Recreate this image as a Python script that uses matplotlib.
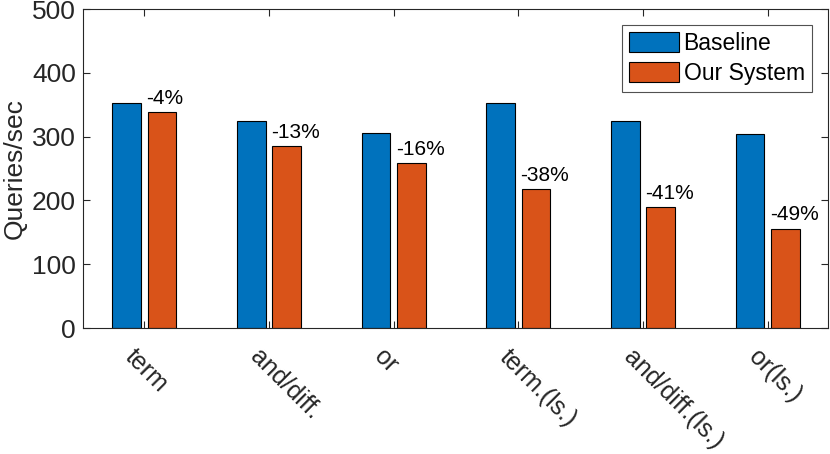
import matplotlib
matplotlib.use("Agg")
import matplotlib.pyplot as plt
import matplotlib.transforms as mtransforms
import numpy as np

plt.rcParams['font.family'] = ['Liberation Sans', 'DejaVu Sans']

categories = ['term', 'and/diff.', 'or', 'term.(ls.)', 'and/diff.(ls.)', 'or(ls.)']
baseline = [353, 325, 306, 353, 324, 304]
our_system = [338, 285, 258, 218, 190, 156]
changes = ['-4%', '-13%', '-16%', '-38%', '-41%', '-49%']

blue = '#0072BD'
orange = '#D95319'
dark = '#262626'

fig = plt.figure(figsize=(8.3, 4.54), dpi=100)
ax = fig.add_axes([0.1, 0.2775, 0.8976, 0.7025])

x = np.arange(1, len(categories) + 1)
w = 0.23
off = 0.142
ax.bar(x - off, baseline, w, color=blue, edgecolor='black', linewidth=0.8, label='Baseline')
ax.bar(x + off, our_system, w, color=orange, edgecolor='black', linewidth=0.8, label='Our System')

# percentage change labels above the second bar of each group
for xi, v, txt in zip(x, our_system, changes):
    ax.annotate(txt, (xi + off - w / 2, v), xytext=(-1, 3), textcoords='offset points',
                ha='left', va='bottom', fontsize=15, color='black')

ax.set_xlim(0.508, 6.483)
ax.set_ylim(0, 500)
ax.set_yticks(range(0, 501, 100))
ax.set_xticks(x)
ax.set_xticklabels(categories, rotation=-45, ha='left', va='top', rotation_mode='anchor', fontsize=18)
ax.tick_params(axis='both', direction='in', top=True, right=True, length=5, width=0.8,
               colors=dark, labelcolor=dark)
ax.tick_params(axis='y', labelsize=19, pad=5)
ax.tick_params(axis='x', pad=12)
shift = mtransforms.ScaledTranslation(-7 / 100, 0, fig.dpi_scale_trans)
for lbl in ax.get_xticklabels():
    lbl.set_transform(lbl.get_transform() + shift)
for s in ax.spines.values():
    s.set_color(dark)
    s.set_linewidth(0.8)
ax.set_ylabel('Queries/sec', fontsize=19, color=dark, labelpad=4)

leg = ax.legend(loc='upper right', bbox_to_anchor=(0.978, 0.95), fontsize=16.5, frameon=True,
                fancybox=False, edgecolor=dark, handlelength=2.2, handleheight=1.0,
                handletextpad=0.2, borderpad=0.3, labelspacing=0.3, borderaxespad=0)
leg.get_frame().set_linewidth(0.8)

plt.savefig('out.png', dpi=100)
